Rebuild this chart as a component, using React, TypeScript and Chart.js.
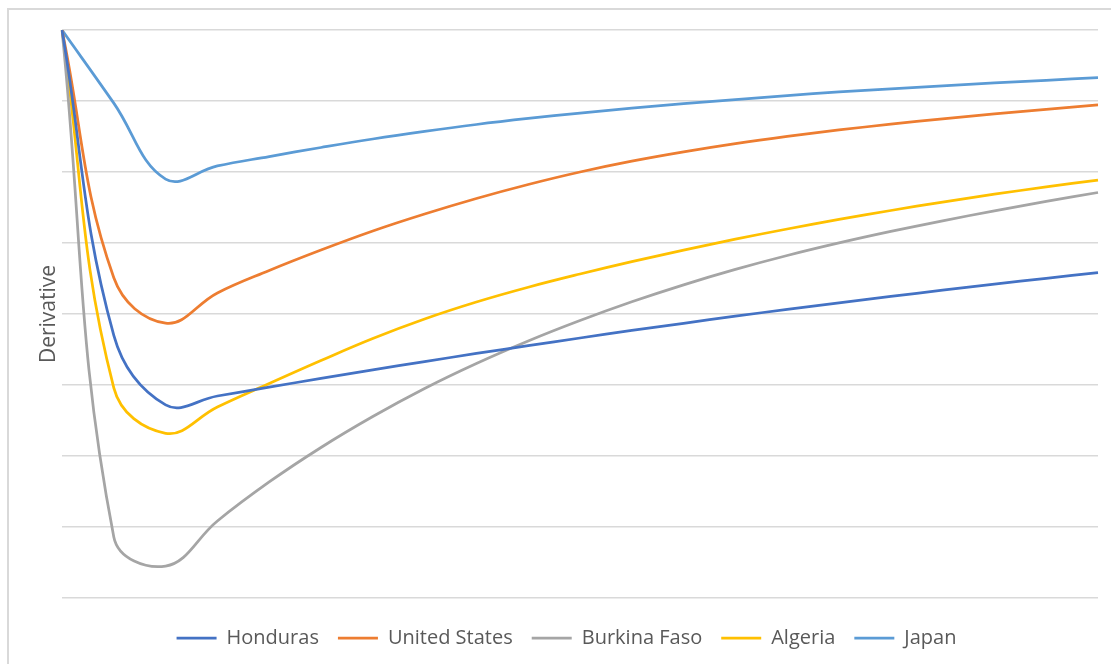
import { useEffect, useRef } from "react";
import { Chart, registerables } from "chart.js";

Chart.register(...registerables);

// Time steps along the horizontal axis (no labels are shown)
const steps = [
  "0", "1", "2", "3", "4", "5", "6", "7", "8", "9", "10",
  "11", "12", "13", "14", "15", "16", "17", "18", "19", "20",
];

// Derivative values per country, one value per step
const honduras = [
  0, -4.3, -5.28, -5.155, -5.03, -4.907, -4.787, -4.67, -4.556, -4.446, -4.338,
  -4.232, -4.131, -4.031, -3.935, -3.842, -3.752, -3.665, -3.58, -3.497, -3.418,
];
const unitedStates = [
  0, -3.49, -4.13, -3.704, -3.387, -3.099, -2.831, -2.592, -2.373, -2.176, -2.0,
  -1.848, -1.717, -1.601, -1.499, -1.408, -1.327, -1.252, -1.183, -1.118, -1.056,
];
const burkinaFaso = [
  0, -7.14, -7.55, -6.915, -6.366, -5.88, -5.444, -5.049, -4.697, -4.38, -4.092,
  -3.828, -3.589, -3.372, -3.176, -2.999, -2.837, -2.687, -2.548, -2.415, -2.289,
];
const algeria = [
  0, -5.04, -5.68, -5.31, -4.979, -4.655, -4.345, -4.07, -3.831, -3.623, -3.437,
  -3.263, -3.1, -2.946, -2.803, -2.668, -2.542, -2.424, -2.313, -2.21, -2.113,
];
const japan = [
  0, -1.03, -2.1, -1.915, -1.782, -1.655, -1.535, -1.428, -1.331, -1.246, -1.17,
  -1.101, -1.038, -0.979, -0.924, -0.873, -0.828, -0.786, -0.746, -0.708, -0.672,
];

const seriesNames = ["Honduras", "United States", "Burkina Faso", "Algeria", "Japan"];
const seriesColors = ["#4472C4", "#ED7D31", "#A5A5A5", "#FFC000", "#5B9BD5"];

const textColor = "#595959";
const gridColor = "#d9d9d9";
const fontFamily = "'Open Sans', 'Noto Sans', sans-serif";

export default function App() {
  const canvasRef = useRef<HTMLCanvasElement | null>(null);

  useEffect(() => {
    const canvas = canvasRef.current;
    if (!canvas) return;
    const values = [honduras, unitedStates, burkinaFaso, algeria, japan];

    const chart = new Chart(canvas, {
      type: "line",
      data: {
        labels: steps,
        datasets: seriesNames.map((name, i) => ({
          label: name,
          data: values[i],
          borderColor: seriesColors[i],
          backgroundColor: seriesColors[i],
          borderWidth: 2.75,
          pointRadius: 0,
          tension: 0.4,
          fill: false,
        })),
      },
      options: {
        responsive: false,
        animation: false,
        events: [],
        layout: { padding: { top: 30, right: 13, bottom: 6, left: 35 } },
        plugins: {
          legend: {
            position: "bottom",
            labels: {
              usePointStyle: true,
              pointStyle: "line",
              pointStyleWidth: 40,
              padding: 19,
              color: textColor,
              font: { family: fontFamily, size: 20 },
            },
          },
          tooltip: { enabled: false },
        },
        scales: {
          x: {
            type: "category",
            offset: false,
            grid: { display: false },
            border: { display: false },
            ticks: { display: false },
            afterFit: (scale: any) => {
              scale.height = 11;
            },
          },
          y: {
            min: -8,
            max: 0,
            ticks: { display: false, stepSize: 1 },
            grid: { color: gridColor, lineWidth: 1.5, drawTicks: false },
            border: { display: false },
            title: {
              display: true,
              text: "Derivative",
              color: textColor,
              font: { family: fontFamily, size: 21 },
              padding: { top: 1, bottom: 0 },
            },
            afterFit: (scale: any) => {
              scale.width = 27;
            },
          },
        },
      },
    });

    return () => chart.destroy();
  }, []);

  return (
    <div
      style={{
        position: "fixed",
        left: 0,
        top: 0,
        width: 1111,
        height: 664,
        overflow: "hidden",
        background: "#ffffff",
      }}
    >
      <div
        style={{
          position: "absolute",
          left: 7,
          top: 8,
          width: 1200,
          height: 800,
          border: `2px solid ${gridColor}`,
          boxSizing: "border-box",
        }}
      />
      <canvas
        ref={canvasRef}
        width={1111}
        height={664}
        style={{ position: "absolute", left: 0, top: 0, width: 1111, height: 664 }}
      />
    </div>
  );
}
